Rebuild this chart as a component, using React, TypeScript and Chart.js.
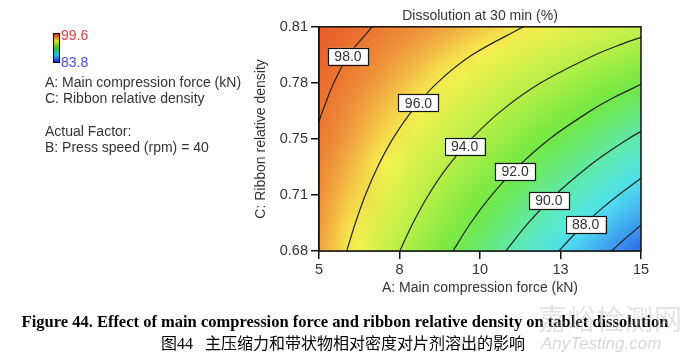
import React, { useEffect, useRef } from "react";
import { Chart, registerables } from "chart.js";
Chart.register(...registerables);

// ---- data ----
const xTickValues = [5, 7.5, 10, 12.5, 15];
const xTickLabels = ["5", "8", "10", "13", "15"];
const yTickValues = [0.68, 0.7125, 0.745, 0.7775, 0.81];
const yTickLabels = ["0.68", "0.71", "0.75", "0.78", "0.81"];

const colorMin = 83.8;
const colorMax = 99.6;

// response grid: columns = force, rows = density (bottom -> top)
const gridX = [5, 6, 7, 8, 9, 10, 11, 12, 13, 14, 15];
const gridY = [0.68, 0.693, 0.706, 0.719, 0.732, 0.745, 0.758, 0.771, 0.784, 0.797, 0.81];
const gridZ = [
  [97.05, 95.84, 94.62, 93.41, 92.19, 90.98, 89.76, 88.55, 87.33, 86.12, 84.9],
  [97.22, 96.08, 94.94, 93.81, 92.67, 91.54, 90.4, 89.26, 88.13, 86.99, 85.86],
  [97.38, 96.32, 95.27, 94.21, 93.15, 92.1, 91.04, 89.98, 88.92, 87.87, 86.81],
  [97.55, 96.57, 95.59, 94.61, 93.63, 92.66, 91.68, 90.7, 89.72, 88.74, 87.77],
  [97.71, 96.81, 95.91, 95.01, 94.11, 93.22, 92.32, 91.42, 90.52, 89.62, 88.72],
  [97.88, 97.06, 96.24, 95.42, 94.6, 93.78, 92.96, 92.14, 91.32, 90.5, 89.68],
  [98.04, 97.3, 96.56, 95.82, 95.08, 94.34, 93.59, 92.85, 92.11, 91.37, 90.63],
  [98.21, 97.54, 96.88, 96.22, 95.56, 94.9, 94.23, 93.57, 92.91, 92.25, 91.59],
  [98.37, 97.79, 97.2, 96.62, 96.04, 95.46, 94.87, 94.29, 93.71, 93.12, 92.54],
  [98.54, 98.03, 97.53, 97.02, 96.52, 96.02, 95.51, 95.01, 94.5, 94.0, 93.5],
  [98.7, 98.28, 97.85, 97.43, 97.0, 96.58, 96.15, 95.73, 95.3, 94.88, 94.45],
];

// contour lines
const contour98 = [
  { x: 5, y: 0.755 }, { x: 5.11, y: 0.761 }, { x: 5.46, y: 0.7775 }, { x: 5.94, y: 0.794 }, { x: 6.65, y: 0.81 },
];
const contour96 = [
  { x: 5.86, y: 0.68 }, { x: 6.13, y: 0.69625 }, { x: 6.44, y: 0.7125 }, { x: 6.82, y: 0.72875 }, { x: 7.29, y: 0.745 },
  { x: 7.89, y: 0.76125 }, { x: 8.67, y: 0.7775 }, { x: 9.76, y: 0.79375 }, { x: 11.35, y: 0.81 },
];
const contour94 = [
  { x: 7.51, y: 0.68 }, { x: 7.92, y: 0.69625 }, { x: 8.4, y: 0.7125 }, { x: 8.99, y: 0.72875 }, { x: 9.73, y: 0.745 },
  { x: 10.66, y: 0.76125 }, { x: 11.89, y: 0.7775 }, { x: 13.58, y: 0.79375 }, { x: 14.45, y: 0.80025 }, { x: 15, y: 0.8039 },
];
const contour92 = [
  { x: 9.16, y: 0.68 }, { x: 9.71, y: 0.69625 }, { x: 10.37, y: 0.7125 }, { x: 11.17, y: 0.72875 }, { x: 12.16, y: 0.745 },
  { x: 13.43, y: 0.76125 }, { x: 14.2, y: 0.7694 }, { x: 15, y: 0.7766 },
];
const contour90 = [
  { x: 10.8, y: 0.68 }, { x: 11.5, y: 0.69625 }, { x: 12.33, y: 0.7125 }, { x: 13.35, y: 0.72875 }, { x: 14.07, y: 0.7385 },
  { x: 14.6, y: 0.745 }, { x: 15, y: 0.7494 },
];
const contour88 = [
  { x: 12.45, y: 0.68 }, { x: 12.85, y: 0.6881 }, { x: 13.29, y: 0.69625 }, { x: 13.77, y: 0.7044 }, { x: 14.3, y: 0.7125 },
  { x: 15, y: 0.7222 },
];
const contour86 = [{ x: 14.09, y: 0.68 }, { x: 14.47, y: 0.6865 }, { x: 15, y: 0.695 }];

const contourLabels = [
  { text: "98.0", x: 5.9, y: 0.7929 },
  { text: "96.0", x: 8.09, y: 0.7659 },
  { text: "94.0", x: 9.52, y: 0.7407 },
  { text: "92.0", x: 11.09, y: 0.7261 },
  { text: "90.0", x: 12.14, y: 0.7093 },
  { text: "88.0", x: 13.28, y: 0.6954 },
];

// ---- styles ----
const SANS = "'Liberation Sans', Arial, sans-serif";
const SERIF = "'Liberation Serif', 'Times New Roman', serif";
const TEXT = "#333";

const colorStops: [number, number[]][] = [
  [0, [30, 60, 230]],
  [0.14, [60, 150, 240]],
  [0.27, [80, 230, 240]],
  [0.39, [96, 234, 168]],
  [0.52, [112, 232, 64]],
  [0.65, [184, 240, 72]],
  [0.77, [248, 240, 80]],
  [0.84, [240, 160, 64]],
  [0.89, [236, 122, 48]],
  [0.95, [232, 88, 42]],
  [1, [228, 60, 35]],
];
function colorFor(v: number): number[] {
  let t = (v - colorMin) / (colorMax - colorMin);
  t = Math.max(0, Math.min(1, t));
  for (let i = 1; i < colorStops.length; i++) {
    const [t1, c1] = colorStops[i];
    const [t0, c0] = colorStops[i - 1];
    if (t <= t1) {
      const f = (t - t0) / (t1 - t0);
      return [0, 1, 2].map((k) => Math.round(c0[k] + (c1[k] - c0[k]) * f));
    }
  }
  return colorStops[colorStops.length - 1][1];
}

const heatmapPlugin = {
  id: "heatmap",
  beforeDatasetsDraw(chart: any) {
    const { ctx, chartArea, scales } = chart;
    const nx = gridX.length;
    const ny = gridY.length;
    const off = document.createElement("canvas");
    off.width = nx;
    off.height = ny;
    const octx = off.getContext("2d")!;
    const img = octx.createImageData(nx, ny);
    for (let r = 0; r < ny; r++) {
      for (let c = 0; c < nx; c++) {
        const col = colorFor(gridZ[r][c]);
        const row = ny - 1 - r;
        const idx = (row * nx + c) * 4;
        img.data[idx] = col[0];
        img.data[idx + 1] = col[1];
        img.data[idx + 2] = col[2];
        img.data[idx + 3] = 255;
      }
    }
    octx.putImageData(img, 0, 0);
    const hx = (gridX[1] - gridX[0]) / 2;
    const hy = (gridY[1] - gridY[0]) / 2;
    const x0 = scales.x.getPixelForValue(gridX[0] - hx);
    const x1 = scales.x.getPixelForValue(gridX[nx - 1] + hx);
    const y0 = scales.y.getPixelForValue(gridY[ny - 1] + hy);
    const y1 = scales.y.getPixelForValue(gridY[0] - hy);
    ctx.save();
    ctx.beginPath();
    ctx.rect(chartArea.left, chartArea.top, chartArea.right - chartArea.left, chartArea.bottom - chartArea.top);
    ctx.clip();
    ctx.imageSmoothingEnabled = true;
    ctx.imageSmoothingQuality = "high";
    ctx.drawImage(off, x0, y0, x1 - x0, y1 - y0);
    ctx.restore();
  },
  afterDatasetsDraw(chart: any) {
    const { ctx, chartArea, scales } = chart;
    ctx.save();
    ctx.strokeStyle = "#111";
    ctx.lineWidth = 1.5;
    ctx.strokeRect(chartArea.left, chartArea.top, chartArea.right - chartArea.left, chartArea.bottom - chartArea.top);
    ctx.font = `14px ${SANS}`;
    ctx.textAlign = "center";
    ctx.textBaseline = "middle";
    for (const l of contourLabels) {
      const px = scales.x.getPixelForValue(l.x);
      const py = scales.y.getPixelForValue(l.y);
      const w = 40;
      const h = 17;
      ctx.fillStyle = "#fff";
      ctx.fillRect(px - w / 2, py - h / 2, w, h);
      ctx.strokeStyle = "#111";
      ctx.lineWidth = 1.2;
      ctx.strokeRect(Math.round(px - w / 2) + 0.5, Math.round(py - h / 2) + 0.5, w, h);
      ctx.fillStyle = "#333";
      ctx.fillText(l.text, px, py + 1);
    }
    ctx.restore();
  },
};

const lineDs = (data: { x: number; y: number }[]) => ({
  data,
  showLine: true,
  borderColor: "#222",
  borderWidth: 1.2,
  pointRadius: 0,
  tension: 0.35,
  fill: false,
});

export default function App() {
  const ref = useRef<HTMLCanvasElement>(null);
  useEffect(() => {
    const chart = new Chart(ref.current!, {
      type: "scatter",
      data: {
        datasets: [contour98, contour96, contour94, contour92, contour90, contour88, contour86].map(lineDs),
      },
      options: {
        animation: false,
        responsive: false,
        layout: { padding: { left: 250, right: 39, top: 0, bottom: 62 } },
        plugins: {
          legend: { display: false },
          tooltip: { enabled: false },
          title: {
            display: true,
            fullSize: false,
            text: "Dissolution at 30 min (%)",
            color: TEXT,
            font: { family: SANS, size: 14, weight: "normal" },
            padding: { top: 8, bottom: 2 },
          },
        },
        scales: {
          x: {
            type: "linear",
            min: 5,
            max: 15,
            afterFit: (s: any) => {
              s.height = 49;
            },
            afterBuildTicks: (s: any) => {
              s.ticks = xTickValues.map((v) => ({ value: v }));
            },
            ticks: {
              autoSkip: false,
              maxRotation: 0,
              padding: 2,
              color: TEXT,
              font: { family: SANS, size: 14.5 },
              callback: (_v: any, i: number) => xTickLabels[i],
            },
            grid: { display: true, drawOnChartArea: false, drawTicks: true, tickLength: 8, color: "#111", lineWidth: 1.5 },
            border: { display: true, color: "#111", width: 1.5 },
            title: {
              display: true,
              text: "A: Main compression force (kN)",
              color: TEXT,
              font: { family: SANS, size: 14 },
              padding: { top: 4, bottom: 3 },
            },
          },
          y: {
            type: "linear",
            min: 0.68,
            max: 0.81,
            afterFit: (s: any) => {
              s.width = 69;
            },
            afterBuildTicks: (s: any) => {
              s.ticks = yTickValues.map((v) => ({ value: v }));
            },
            ticks: {
              autoSkip: false,
              padding: 3,
              color: TEXT,
              font: { family: SANS, size: 14.5 },
              callback: (_v: any, i: number) => yTickLabels[i],
            },
            grid: { display: true, drawOnChartArea: false, drawTicks: true, tickLength: 8, color: "#111", lineWidth: 1.5 },
            border: { display: true, color: "#111", width: 1.5 },
            title: {
              display: true,
              text: "C: Ribbon relative density",
              color: TEXT,
              font: { family: SANS, size: 14 },
              padding: { top: 3, bottom: 4 },
            },
          },
        },
      },
      plugins: [heatmapPlugin],
    } as any);
    return () => chart.destroy();
  }, []);

  const legendText: React.CSSProperties = {
    position: "absolute",
    fontFamily: SANS,
    fontSize: 14,
    lineHeight: "16px",
    color: TEXT,
    whiteSpace: "nowrap",
  };

  return (
    <div style={{ position: "fixed", left: 0, top: 0, width: 680, height: 362, background: "#fff", overflow: "hidden" }}>
      <canvas ref={ref} width={680} height={362} style={{ position: "absolute", left: 0, top: 0, width: 680, height: 362 }} />
      <div
        style={{
          position: "absolute",
          left: 53,
          top: 33,
          width: 5,
          height: 28,
          border: "1px solid #000",
          background: "linear-gradient(to bottom, #e02020, #e0e020 25%, #30c030 50%, #20c0e0 75%, #2020e0)",
        }}
      />
      <div style={{ ...legendText, left: 61, top: 27, color: "#f04040" }}>99.6</div>
      <div style={{ ...legendText, left: 61, top: 54, color: "#4848f0" }}>83.8</div>
      <div style={{ ...legendText, left: 45, top: 74 }}>A: Main compression force (kN)</div>
      <div style={{ ...legendText, left: 45, top: 90 }}>C: Ribbon relative density</div>
      <div style={{ ...legendText, left: 45, top: 123 }}>Actual Factor:</div>
      <div style={{ ...legendText, left: 45, top: 139 }}>B: Press speed (rpm) = 40</div>

      <div
        style={{
          position: "absolute",
          left: 0,
          width: 690,
          top: 312,
          textAlign: "center",
          fontFamily: SERIF,
          fontWeight: "bold",
          fontSize: 16.5,
          lineHeight: "19px",
          color: "#000",
          whiteSpace: "nowrap",
        }}
      >
        Figure 44. Effect of main compression force and ribbon relative density on tablet dissolution
      </div>
      <div
        style={{
          position: "absolute",
          left: 0,
          width: 686,
          top: 334,
          textAlign: "center",
          fontFamily: `${SERIF}, 'Noto Sans CJK SC'`,
          fontSize: 16,
          lineHeight: "19px",
          color: "#000",
          whiteSpace: "pre",
        }}
      >
        {"图44   主压缩力和带状物相对密度对片剂溶出的影响"}
      </div>
      <div
        style={{
          position: "absolute",
          left: 538,
          top: 301,
          fontFamily: "'Noto Sans CJK SC', sans-serif",
          fontSize: 28,
          lineHeight: "34px",
          letterSpacing: 1,
          color: "rgba(190,190,190,0.45)",
          whiteSpace: "nowrap",
        }}
      >
        嘉峪检测网
      </div>
      <div
        style={{
          position: "absolute",
          left: 541,
          top: 334,
          fontFamily: SANS,
          fontStyle: "italic",
          fontSize: 17,
          lineHeight: "20px",
          color: "rgba(190,190,190,0.6)",
          whiteSpace: "nowrap",
        }}
      >
        AnyTesting.com
      </div>
    </div>
  );
}
